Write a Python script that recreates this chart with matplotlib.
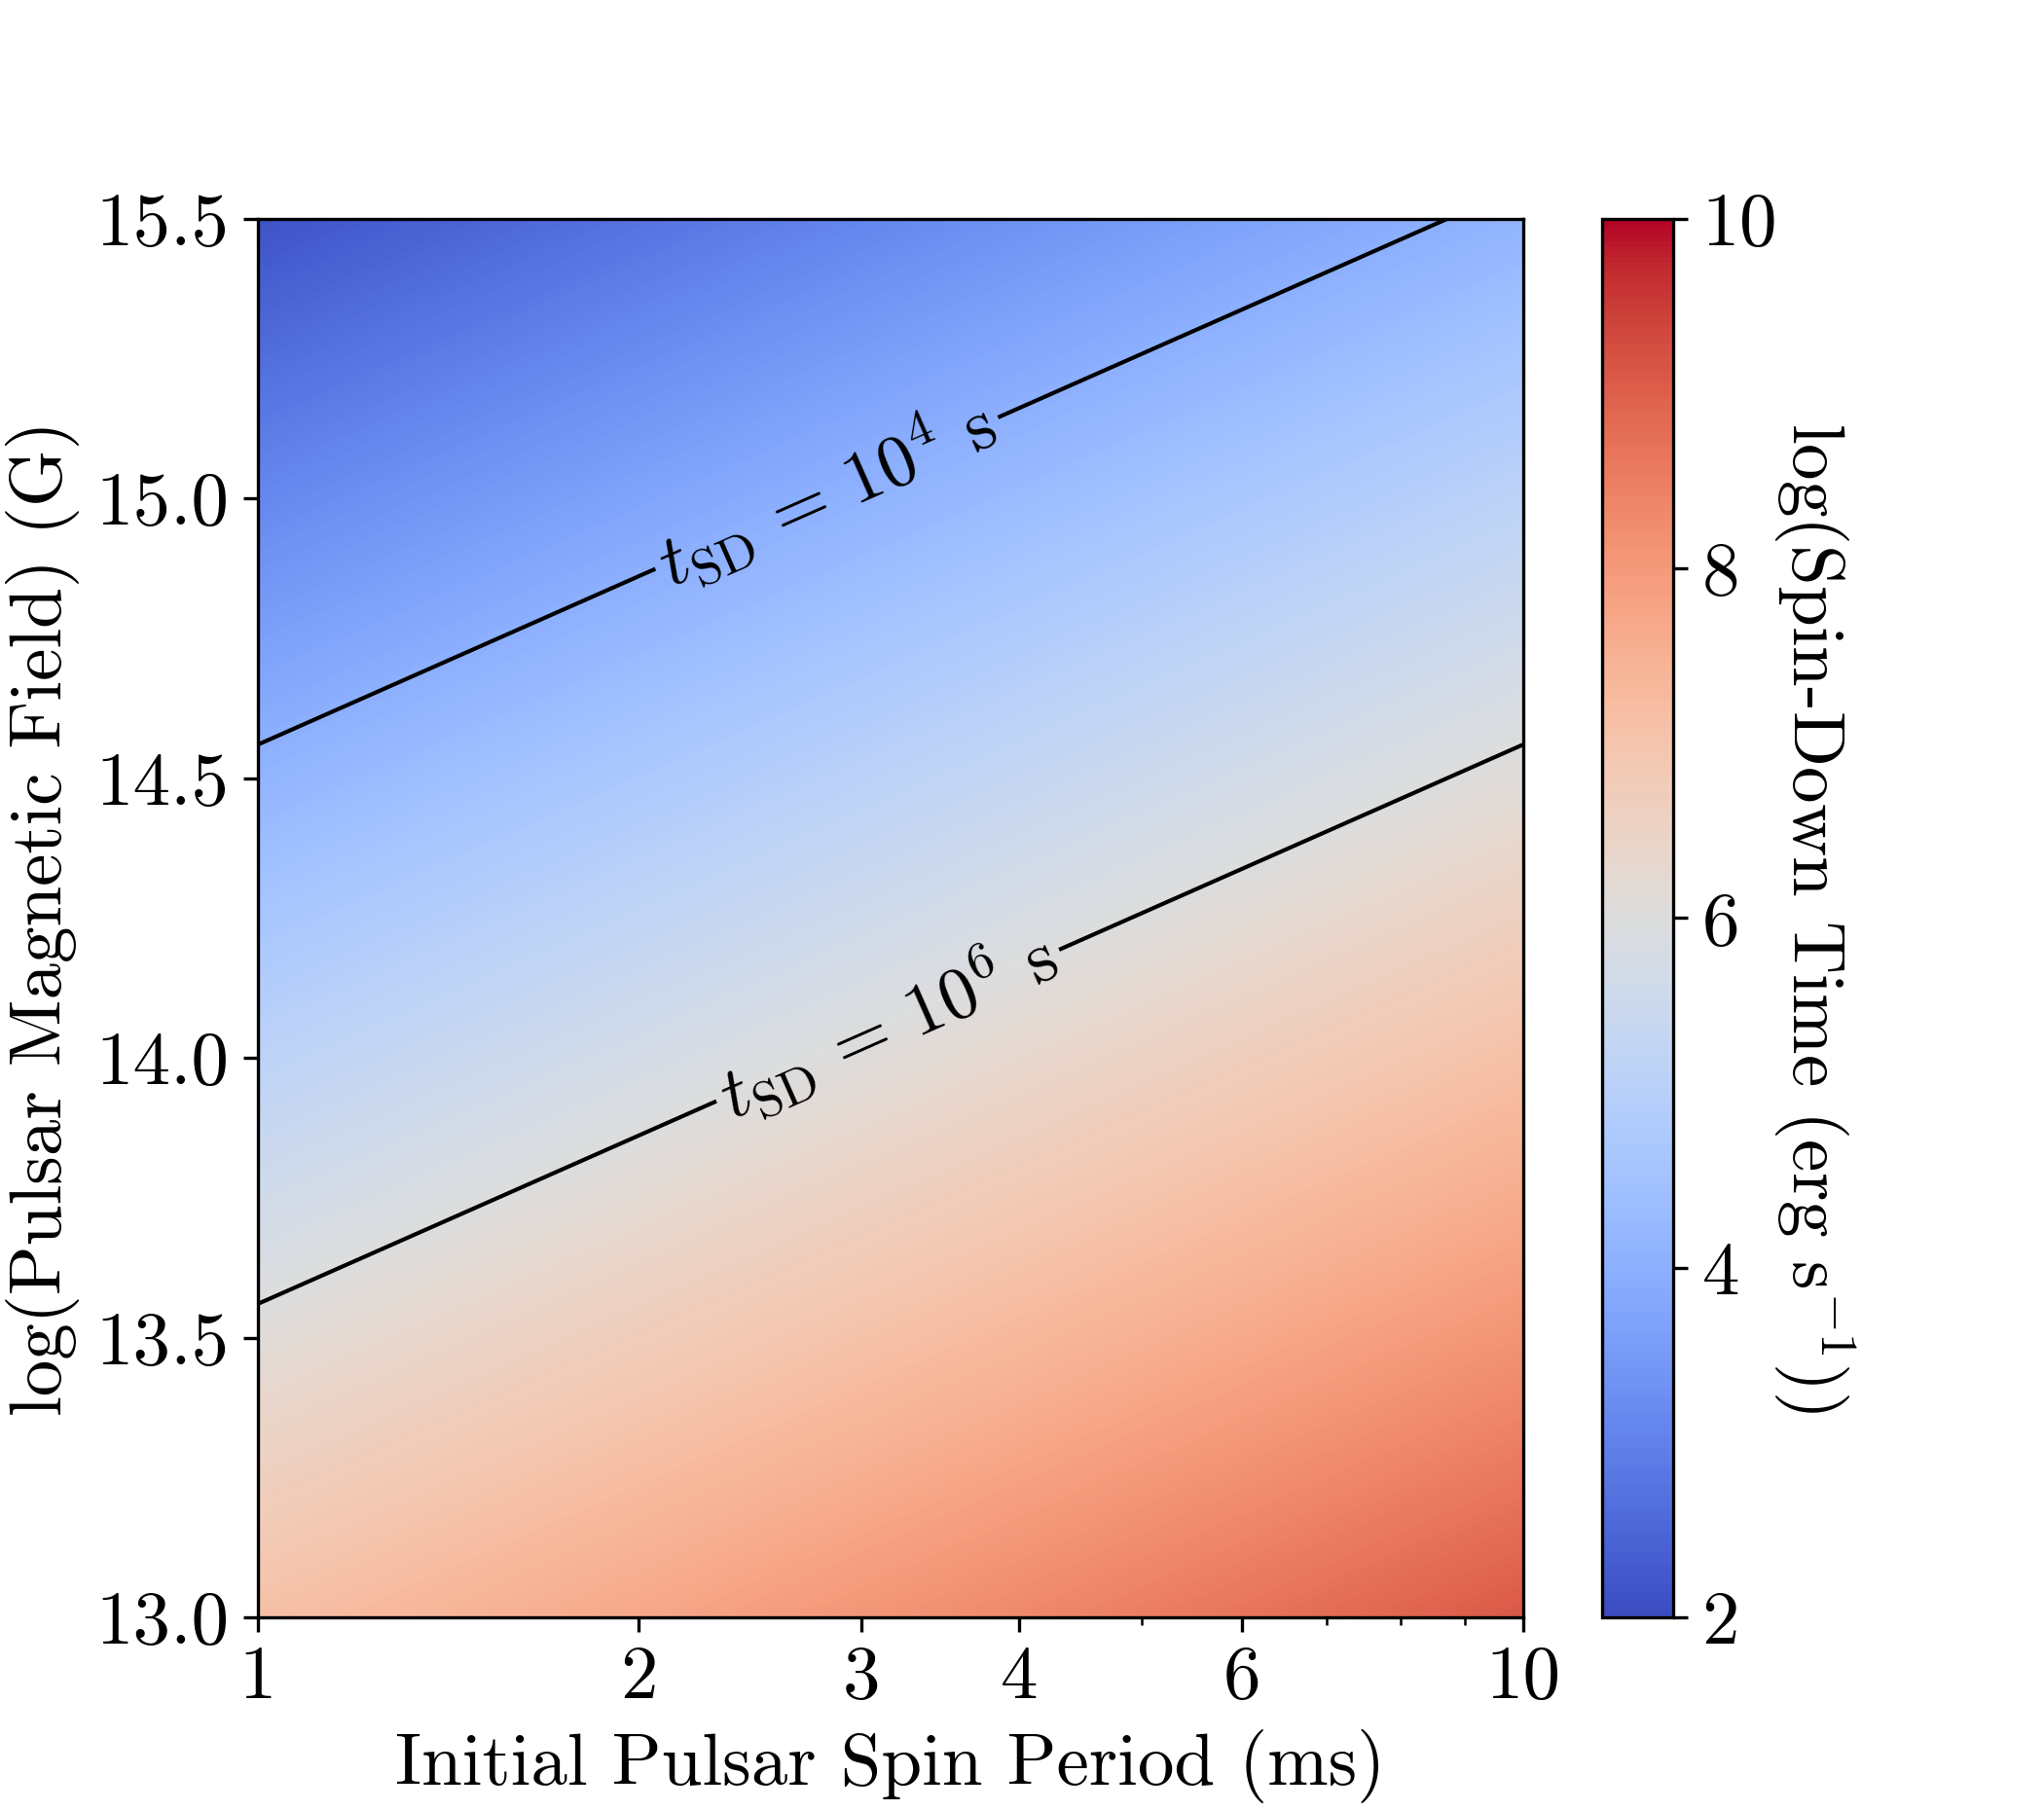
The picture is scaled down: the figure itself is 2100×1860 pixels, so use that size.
import numpy as np
import matplotlib
matplotlib.use('Agg')
import matplotlib.pyplot as plt
from matplotlib.ticker import FixedLocator, NullFormatter

plt.rcParams['font.family'] = 'serif'
plt.rcParams['font.serif'] = ['cmr10']
plt.rcParams['mathtext.fontset'] = 'cm'
plt.rcParams['axes.formatter.use_mathtext'] = True
plt.rcParams['font.size'] = 18

# grid of initial spin period (ms) and log magnetic field (G)
period_ms = np.logspace(0, 1, 400)
log_b = np.linspace(13.0, 15.5, 400)
# log t_SD = 2 log P(ms) - 2 log B + offset, offset
log_t_offset = 33.12
contour_levels = [4, 6]
contour_labels = {4: r'$t_{\rm SD}\, =\, 10^4$ s', 6: r'$t_{\rm SD}\, =\, 10^6$ s'}
label_spots = [(2.83, 15.0), (3.16, 14.05)]
x_ticks = [1, 2, 3, 4, 6, 10]
y_ticks = [13.0, 13.5, 14.0, 14.5, 15.0, 15.5]
cbar_ticks = [2, 4, 6, 8, 10]

P, B = np.meshgrid(period_ms, log_b)
log_t = 2 * np.log10(P) - 2 * B + log_t_offset

fig = plt.figure(figsize=(7, 6.2), dpi=300)
ax = fig.add_axes([0.126, 0.1065, 0.619, 0.7725])
cax = fig.add_axes([0.784, 0.1065, 0.0346, 0.7725])

mesh = ax.pcolormesh(P, B, log_t, cmap='coolwarm', vmin=2, vmax=10, shading='auto', rasterized=True)

ax.set_xscale('log')
ax.set_xlim(1, 10)
ax.set_ylim(13.0, 15.5)
ax.xaxis.set_major_locator(FixedLocator(x_ticks))
ax.set_xticklabels([str(t) for t in x_ticks])
ax.xaxis.set_minor_formatter(NullFormatter())
ax.set_yticks(y_ticks)
ax.set_yticklabels([f'{t:.1f}' for t in y_ticks])
ax.tick_params(labelsize=18.5)
ax.set_xlabel('Initial Pulsar Spin Period (ms)')
ax.set_ylabel('log(Pulsar Magnetic Field) (G)')

cs = ax.contour(P, B, log_t, levels=contour_levels, colors='black', linewidths=1.0)
labels = ax.clabel(cs, fmt=contour_labels, fontsize=18, inline=True, inline_spacing=7,
                   manual=label_spots)
# rotate labels along the line as it appears on screen
p1 = ax.transData.transform((1, 14.56))
p2 = ax.transData.transform((10, 15.56))
angle = np.degrees(np.arctan2(p2[1] - p1[1], p2[0] - p1[0]))
for t in labels:
    t.set_rotation(angle)

cb = fig.colorbar(mesh, cax=cax)
cb.set_ticks(cbar_ticks)
cb.ax.tick_params(labelsize=18.5)
cb.set_label(r'log(Spin-Down Time (erg s$^{-1}$))', rotation=270, labelpad=20)

plt.savefig('out.png', dpi=300)
plt.close()
